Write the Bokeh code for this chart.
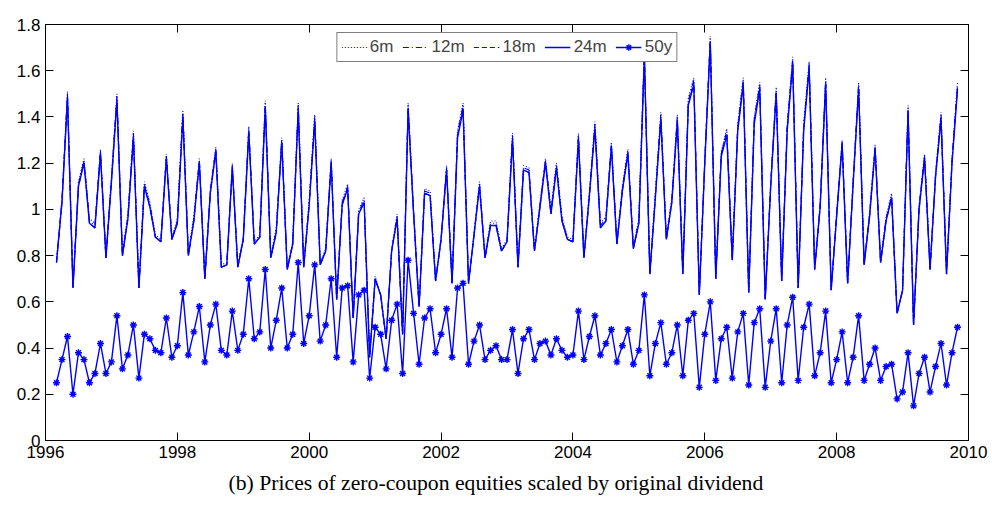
from bokeh.plotting import figure
from bokeh.models import (ColumnDataSource, LinearAxis, FixedTicker, PrintfTickFormatter,
                          CustomJSTickFormatter, Title, Range1d)
from bokeh.embed import file_html
from bokeh.resources import INLINE

# Monthly observations, March 1996 .. November 2009
start_year = 1996
start_month = 2          # months after January 1996
n_months = 165

# Prices scaled by original dividend, by maturity of the zero-coupon equity
p24m = [0.77, 1.03, 1.48, 0.66, 1.10, 1.20, 0.94, 0.92, 1.24, 0.79,
        1.12, 1.47, 0.80, 0.96, 1.31, 0.66, 1.10, 1.01, 0.88, 0.86, 1.22, 0.87,
        0.94, 1.40, 0.80, 0.95, 1.20, 0.70, 1.07, 1.25, 0.75, 0.76, 1.18, 0.75,
        0.87, 1.33, 0.85, 0.88, 1.44, 0.79, 0.90, 1.29, 0.74, 0.85, 1.43, 0.75,
        1.02, 1.38, 0.76, 0.82, 1.20, 0.61, 1.02, 1.09, 0.53, 0.98, 1.03, 0.36,
        0.70, 0.63, 0.44, 0.82, 0.96, 0.46, 1.43, 0.98, 0.58, 1.07, 1.06, 0.69,
        0.87, 1.17, 0.68, 1.31, 1.43, 0.68, 0.89, 1.10, 0.79, 0.93, 0.93, 0.82,
        0.86, 1.30, 0.75, 1.17, 1.16, 0.82, 1.01, 1.20, 0.98, 1.18, 0.95, 0.87,
        0.86, 1.30, 0.79, 1.06, 1.35, 0.92, 0.95, 1.27, 0.85, 1.08, 1.24, 0.83,
        0.94, 1.66, 0.72, 1.05, 1.39, 0.87, 1.03, 1.38, 0.72, 1.45, 1.54, 0.63,
        1.20, 1.72, 0.70, 1.23, 1.32, 0.78, 1.34, 1.54, 0.64, 1.37, 1.52, 0.61,
        1.10, 1.50, 0.69, 1.34, 1.63, 0.66, 1.34, 1.61, 0.74, 1.01, 1.54, 0.65,
        0.97, 1.28, 0.68, 1.11, 1.52, 0.76, 0.97, 1.26, 0.77, 0.95, 1.05, 0.55,
        0.65, 1.42, 0.50, 1.00, 1.22, 0.74, 1.14, 1.39, 0.72, 1.20, 1.52]

p18m = [0.77, 1.03, 1.49, 0.66, 1.10, 1.21, 0.94, 0.92, 1.25, 0.79,
        1.12, 1.48, 0.80, 0.96, 1.32, 0.66, 1.10, 1.01, 0.88, 0.86, 1.23, 0.87,
        0.94, 1.41, 0.80, 0.95, 1.21, 0.70, 1.07, 1.26, 0.75, 0.76, 1.18, 0.75,
        0.87, 1.34, 0.85, 0.88, 1.45, 0.79, 0.90, 1.30, 0.74, 0.85, 1.44, 0.75,
        1.02, 1.39, 0.76, 0.82, 1.21, 0.61, 1.02, 1.09, 0.53, 0.98, 1.03, 0.36,
        0.70, 0.63, 0.44, 0.82, 0.96, 0.46, 1.44, 0.98, 0.58, 1.07, 1.06, 0.69,
        0.87, 1.17, 0.68, 1.32, 1.44, 0.68, 0.89, 1.10, 0.79, 0.93, 0.93, 0.82,
        0.86, 1.31, 0.75, 1.17, 1.16, 0.82, 1.01, 1.21, 0.98, 1.18, 0.95, 0.87,
        0.86, 1.31, 0.79, 1.06, 1.36, 0.92, 0.95, 1.28, 0.85, 1.08, 1.25, 0.83,
        0.94, 1.67, 0.72, 1.05, 1.40, 0.87, 1.03, 1.39, 0.72, 1.46, 1.55, 0.63,
        1.21, 1.73, 0.70, 1.24, 1.33, 0.78, 1.35, 1.55, 0.64, 1.38, 1.53, 0.61,
        1.10, 1.51, 0.69, 1.35, 1.64, 0.66, 1.35, 1.62, 0.74, 1.01, 1.55, 0.65,
        0.97, 1.29, 0.68, 1.11, 1.53, 0.76, 0.97, 1.27, 0.77, 0.95, 1.05, 0.55,
        0.65, 1.43, 0.50, 1.00, 1.23, 0.74, 1.14, 1.40, 0.72, 1.21, 1.53]

p12m = [0.77, 1.04, 1.50, 0.66, 1.11, 1.21, 0.95, 0.93, 1.25, 0.79,
        1.13, 1.49, 0.80, 0.97, 1.33, 0.66, 1.11, 1.02, 0.88, 0.86, 1.23, 0.87,
        0.95, 1.42, 0.80, 0.96, 1.21, 0.70, 1.08, 1.26, 0.75, 0.76, 1.19, 0.75,
        0.87, 1.35, 0.85, 0.88, 1.46, 0.79, 0.91, 1.30, 0.74, 0.85, 1.45, 0.75,
        1.03, 1.40, 0.76, 0.82, 1.21, 0.61, 1.03, 1.10, 0.53, 0.99, 1.04, 0.36,
        0.70, 0.63, 0.44, 0.82, 0.97, 0.46, 1.45, 0.99, 0.58, 1.08, 1.07, 0.69,
        0.87, 1.18, 0.68, 1.33, 1.45, 0.68, 0.89, 1.11, 0.79, 0.94, 0.94, 0.82,
        0.86, 1.32, 0.75, 1.18, 1.17, 0.82, 1.02, 1.21, 0.99, 1.19, 0.96, 0.87,
        0.86, 1.32, 0.79, 1.07, 1.37, 0.93, 0.96, 1.28, 0.85, 1.09, 1.25, 0.83,
        0.95, 1.68, 0.72, 1.06, 1.41, 0.87, 1.04, 1.40, 0.72, 1.47, 1.56, 0.63,
        1.21, 1.74, 0.70, 1.24, 1.34, 0.78, 1.36, 1.56, 0.64, 1.39, 1.54, 0.61,
        1.11, 1.52, 0.69, 1.36, 1.65, 0.66, 1.36, 1.63, 0.74, 1.02, 1.56, 0.65,
        0.98, 1.29, 0.68, 1.12, 1.54, 0.76, 0.98, 1.27, 0.77, 0.96, 1.06, 0.55,
        0.65, 1.44, 0.50, 1.01, 1.23, 0.74, 1.15, 1.41, 0.72, 1.21, 1.54]

p6m = [0.78, 1.05, 1.51, 0.66, 1.12, 1.22, 0.96, 0.94, 1.26, 0.80,
       1.14, 1.50, 0.81, 0.98, 1.34, 0.66, 1.12, 1.03, 0.89, 0.87, 1.24, 0.88,
       0.96, 1.43, 0.81, 0.97, 1.22, 0.71, 1.09, 1.27, 0.76, 0.77, 1.20, 0.76,
       0.88, 1.36, 0.86, 0.89, 1.47, 0.80, 0.92, 1.31, 0.75, 0.86, 1.46, 0.76,
       1.04, 1.41, 0.77, 0.83, 1.22, 0.61, 1.04, 1.11, 0.53, 1.00, 1.05, 0.36,
       0.71, 0.63, 0.44, 0.83, 0.98, 0.46, 1.46, 1.00, 0.58, 1.09, 1.08, 0.69,
       0.88, 1.19, 0.68, 1.34, 1.46, 0.68, 0.90, 1.12, 0.80, 0.95, 0.95, 0.83,
       0.87, 1.33, 0.76, 1.19, 1.18, 0.83, 1.03, 1.22, 1.00, 1.20, 0.97, 0.88,
       0.87, 1.33, 0.80, 1.08, 1.38, 0.94, 0.97, 1.29, 0.86, 1.10, 1.26, 0.84,
       0.96, 1.69, 0.73, 1.07, 1.42, 0.88, 1.05, 1.41, 0.73, 1.48, 1.57, 0.63,
       1.22, 1.75, 0.71, 1.25, 1.35, 0.79, 1.37, 1.57, 0.64, 1.40, 1.55, 0.61,
       1.12, 1.53, 0.69, 1.37, 1.66, 0.66, 1.37, 1.64, 0.75, 1.03, 1.57, 0.65,
       0.99, 1.30, 0.68, 1.13, 1.55, 0.77, 0.99, 1.28, 0.78, 0.97, 1.07, 0.55,
       0.65, 1.45, 0.50, 1.02, 1.24, 0.75, 1.16, 1.42, 0.73, 1.22, 1.55]

p50y = [0.25, 0.35, 0.45, 0.20, 0.38, 0.35, 0.25, 0.29, 0.42, 0.29,
        0.34, 0.54, 0.31, 0.37, 0.50, 0.27, 0.46, 0.44, 0.39, 0.38, 0.53, 0.36,
        0.41, 0.64, 0.37, 0.47, 0.58, 0.34, 0.50, 0.59, 0.39, 0.37, 0.56, 0.39,
        0.46, 0.70, 0.44, 0.47, 0.74, 0.40, 0.52, 0.66, 0.40, 0.46, 0.77, 0.42,
        0.54, 0.76, 0.43, 0.50, 0.70, 0.36, 0.66, 0.67, 0.34, 0.63, 0.65, 0.27,
        0.49, 0.46, 0.31, 0.52, 0.59, 0.29, 0.78, 0.55, 0.33, 0.53, 0.57, 0.38,
        0.46, 0.57, 0.36, 0.66, 0.68, 0.33, 0.43, 0.50, 0.35, 0.39, 0.41, 0.35,
        0.35, 0.48, 0.29, 0.44, 0.48, 0.35, 0.42, 0.43, 0.37, 0.44, 0.39, 0.36,
        0.37, 0.56, 0.35, 0.45, 0.54, 0.37, 0.42, 0.48, 0.34, 0.41, 0.48, 0.33,
        0.39, 0.63, 0.28, 0.42, 0.51, 0.33, 0.38, 0.50, 0.28, 0.52, 0.55, 0.23,
        0.46, 0.60, 0.26, 0.44, 0.49, 0.27, 0.47, 0.55, 0.24, 0.51, 0.57, 0.23,
        0.43, 0.57, 0.25, 0.50, 0.62, 0.26, 0.49, 0.59, 0.28, 0.38, 0.56, 0.25,
        0.35, 0.47, 0.25, 0.36, 0.54, 0.26, 0.33, 0.40, 0.26, 0.32, 0.33, 0.18,
        0.21, 0.38, 0.15, 0.29, 0.36, 0.21, 0.32, 0.42, 0.24, 0.38, 0.49]

year_ticks = [1996, 1998, 2000, 2002, 2004, 2006, 2008, 2010]
value_ticks = [0, 0.2, 0.4, 0.6, 0.8, 1.0, 1.2, 1.4, 1.6, 1.8]
caption = "(b) Prices of zero-coupon equities scaled by original dividend"

dates = [start_year + (start_month + i) / 12.0 for i in range(n_months)]
src = ColumnDataSource(dict(t=dates, m6=p6m, m12=p12m, m18=p18m, m24=p24m, y50=p50y))

BLUE = "#0000ff"
TICK_FONT = "Liberation Sans"

p = figure(width=992, height=505, output_backend="svg", toolbar_location=None,
           x_range=Range1d(1996, 2010), y_range=Range1d(0, 1.8),
           min_border_left=45, min_border_right=24, min_border_top=24, min_border_bottom=65,
           background_fill_color="white", border_fill_color="white")
p.outline_line_color = "black"
p.outline_line_width = 1
p.xgrid.visible = False
p.ygrid.visible = False

p.line("t", "m6", source=src, color=BLUE, line_width=1.1, line_dash="1 2", legend_label="6m")
p.line("t", "m12", source=src, color=BLUE, line_width=1.1, line_dash="6 3 1 3", legend_label="12m")
p.line("t", "m18", source=src, color=BLUE, line_width=1.1, line_dash="5 3", legend_label="18m")
p.line("t", "m24", source=src, color=BLUE, line_width=1.4, legend_label="24m")
p.line("t", "y50", source=src, color=BLUE, line_width=1.4, legend_label="50y")
p.scatter("t", "y50", source=src, marker="asterisk", size=7, line_color=BLUE, line_width=1.4,
          legend_label="50y")

xt = FixedTicker(ticks=year_ticks)
yt = FixedTicker(ticks=value_ticks)
blank = CustomJSTickFormatter(code="return ''")

for ax in (p.xaxis[0], p.yaxis[0]):
    ax.major_tick_in = 8
    ax.major_tick_out = 0
    ax.minor_tick_line_color = None
    ax.axis_line_color = "black"
    ax.major_tick_line_color = "black"
    ax.major_label_text_font = TICK_FONT
    ax.major_label_text_font_size = "17px"
    ax.major_label_text_color = "black"
p.xaxis[0].ticker = xt
p.xaxis[0].formatter = PrintfTickFormatter(format="%d")
p.xaxis[0].major_label_standoff = 5
p.yaxis[0].ticker = yt
p.yaxis[0].formatter = PrintfTickFormatter(format="%g")
p.yaxis[0].major_label_standoff = 5

# mirrored tick marks on the top and right edges of the box
top_ax = LinearAxis(ticker=xt, formatter=blank, major_tick_in=8, major_tick_out=0,
                    minor_tick_line_color=None, major_label_standoff=0)
right_ax = LinearAxis(ticker=yt, formatter=blank, major_tick_in=8, major_tick_out=0,
                      minor_tick_line_color=None, major_label_standoff=0)
p.add_layout(top_ax, "above")
p.add_layout(right_ax, "right")

leg = p.legend[0]
leg.orientation = "horizontal"
leg.location = "top_center"
leg.margin = 8
leg.padding = 4
leg.spacing = 9
leg.glyph_width = 26
leg.glyph_height = 16
leg.label_standoff = 3
leg.label_text_font = TICK_FONT
leg.label_text_font_size = "17px"
leg.label_height = 16
leg.border_line_color = "black"
leg.border_line_width = 1
leg.background_fill_color = "white"
leg.background_fill_alpha = 1.0

# figure caption under the x axis
p.add_layout(Title(text=caption, align="left", offset=183, text_font="Liberation Serif",
                   text_font_size="21.7px", text_font_style="normal", text_color="black",
                   standoff=17), "below")

open("out.html", "w").write(file_html(p, INLINE))
